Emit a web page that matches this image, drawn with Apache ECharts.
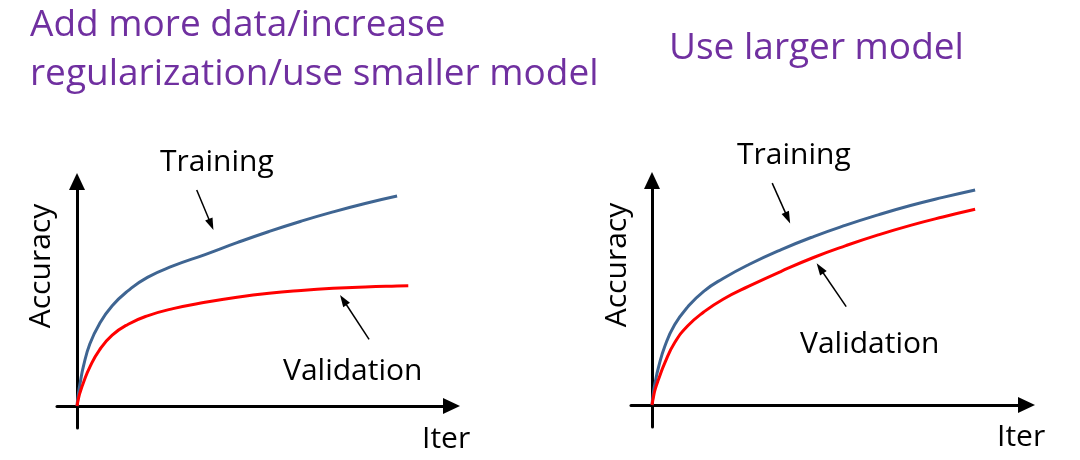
<!DOCTYPE html>
<html>
<head>
<meta charset="utf-8">
<script src="https://cdn.jsdelivr.net/npm/echarts@6/dist/echarts.min.js"></script>
<style>
html,body{margin:0;padding:0;background:#fff;}
#chart{width:1080px;height:460px;}
</style>
</head>
<body>
<div id="chart"></div>
<script>
// ---- data (iterations, accuracy) ----
var leftIters = [0, 0.5, 1, 2, 4, 7, 11, 16, 22, 30, 40, 50, 60, 70, 80, 90, 100, 103.5];
var leftTraining = [0, 6, 10, 17, 26.6, 35.2, 43, 49.5, 55.2, 60.1, 65.0, 70.1, 74.9, 79.3, 83.3, 86.9, 90.1, null];
var leftValidation = [0, 3.5, 6, 10, 16.7, 24, 30.4, 35.1, 38.7, 41.8, 44.5, 46.7, 48.4, 49.6, 50.5, 51.1, 51.5, 51.6];

var rightIters = [0, 0.5, 1, 2, 4, 7, 11, 16, 22, 30, 40, 50, 60, 70, 80, 90, 100];
var rightTraining = [0, 6, 9.8, 16.1, 25.3, 34.4, 42.0, 48.8, 54.3, 60.3, 66.7, 72.3, 77.2, 81.6, 85.6, 89.1, 92.3];
var rightValidation = [0, 3.8, 6.8, 10.9, 18.2, 26.7, 33.9, 39.9, 45.4, 51.0, 57.4, 63.3, 68.4, 73.0, 77.1, 80.7, 84.0];

// annotation arrows [from, to] in data coordinates
var leftTrainArrow = [[37.4, 92.7], [41.9, 77.9]];
var leftValArrow = [[91.25, 28.6], [83.2, 45.5]];
var rightTrainArrow = [[37.2, 95.2], [42.0, 80.3]];
var rightValArrow = [[60.1, 42.2], [52.0, 58.7]];

var titleLeft1 = 'Add more data/increase';
var titleLeft2 = 'regularization/use smaller model';
var titleRight = 'Use larger model';
var labelTrain = 'Training';
var labelVal = 'Validation';
var labelX = 'Iter';
var labelY = 'Accuracy';

// ---- build ----
function pairs(xs, ys) { return xs.map(function (x, i) { return [x, ys[i]]; }); }

var FONT = '"Open Sans"';
var PURPLE = '#7030A0';
var BLUE = '#3F6592';
var RED = '#FF0000';

function arrowMark(a) {
  return {
    silent: true,
    animation: false,
    symbol: ['none', 'triangle'],
    symbolSize: [8, 12],
    label: { show: false },
    lineStyle: { color: '#000', width: 1.5, type: 'solid' },
    itemStyle: { color: '#000' },
    emphasis: { disabled: true },
    data: [[{ coord: a[0] }, { coord: a[1] }]]
  };
}

function axis(idx, min, max) {
  return {
    type: 'value', gridIndex: idx, min: min, max: max,
    axisLine: { onZero: true, lineStyle: { color: '#000', width: 3 }, symbol: ['none', 'triangle'], symbolSize: [16, 17] },
    axisTick: { show: false }, axisLabel: { show: false }, splitLine: { show: false }
  };
}

function txt(text, x, y, size, color, opts) {
  opts = opts || {};
  return {
    type: 'text', x: x, y: y, rotation: opts.rotation || 0, silent: true,
    style: {
      text: text, fill: color, font: size + 'px ' + FONT,
      align: opts.align || 'left', verticalAlign: 'middle'
    }
  };
}

var lineBase = { type: 'line', showSymbol: false, smooth: 0.5, animation: false, silent: true, emphasis: { disabled: true } };

var option = {
  backgroundColor: '#fff',
  animation: false,
  grid: [
    { left: 57, top: 181.5, width: 394.5, height: 246.5 },
    { left: 631, top: 180.5, width: 395.5, height: 246.5 }
  ],
  xAxis: [axis(0, -6.25, 117.0), axis(1, -6.5, 115.9)],
  yAxis: [axis(0, -9.44, 96.35), axis(1, -9.44, 96.35)],
  series: [
    Object.assign({}, lineBase, { name: 'Training', xAxisIndex: 0, yAxisIndex: 0, data: pairs(leftIters, leftTraining), lineStyle: { color: BLUE, width: 3 }, itemStyle: { color: BLUE }, markLine: arrowMark(leftTrainArrow) }),
    Object.assign({}, lineBase, { name: 'Validation', xAxisIndex: 0, yAxisIndex: 0, data: pairs(leftIters, leftValidation), lineStyle: { color: RED, width: 3 }, itemStyle: { color: RED }, markLine: arrowMark(leftValArrow) }),
    Object.assign({}, lineBase, { name: 'Training', xAxisIndex: 1, yAxisIndex: 1, data: pairs(rightIters, rightTraining), lineStyle: { color: BLUE, width: 3 }, itemStyle: { color: BLUE }, markLine: arrowMark(rightTrainArrow) }),
    Object.assign({}, lineBase, { name: 'Validation', xAxisIndex: 1, yAxisIndex: 1, data: pairs(rightIters, rightValidation), lineStyle: { color: RED, width: 3 }, itemStyle: { color: RED }, markLine: arrowMark(rightValArrow) })
  ],
  graphic: [
    txt(titleLeft1, 30, 25.7, 37, PURPLE),
    txt(titleLeft2, 30, 74.7, 37, PURPLE),
    txt(titleRight, 669, 48, 37, PURPLE),
    txt(labelTrain, 160, 162.5, 30, '#000'),
    txt(labelTrain, 737, 155, 30, '#000'),
    txt(labelVal, 283, 371.5, 30, '#000'),
    txt(labelVal, 800, 344.2, 30, '#000'),
    txt(labelX, 422, 439.8, 30, '#000'),
    txt(labelX, 997, 437.5, 30, '#000'),
    txt(labelY, 41.5, 266, 30, '#000', { rotation: Math.PI / 2, align: 'center' }),
    txt(labelY, 617.5, 265, 30, '#000', { rotation: Math.PI / 2, align: 'center' })
  ]
};

var chart = echarts.init(document.getElementById('chart'), null, { renderer: 'canvas' });
chart.setOption(option);
</script>
</body>
</html>
